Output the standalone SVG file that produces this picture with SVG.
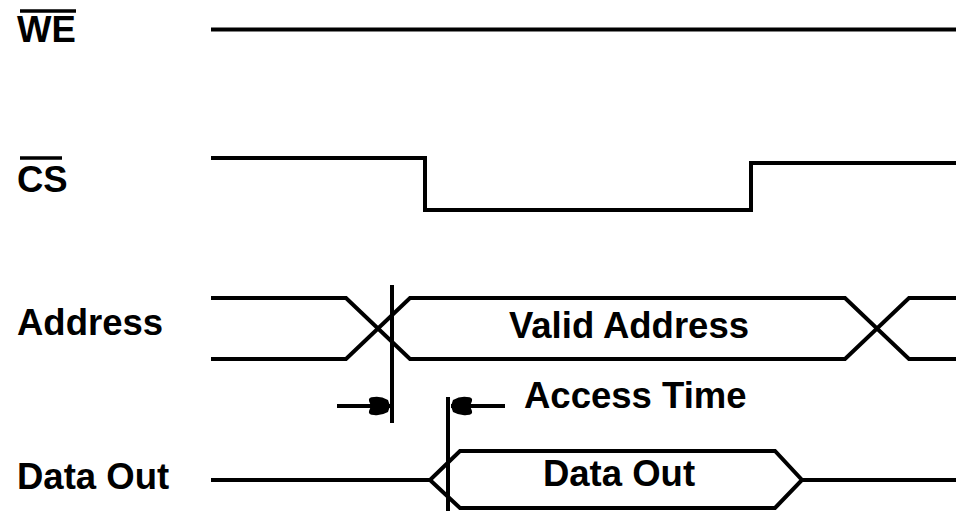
<svg xmlns="http://www.w3.org/2000/svg" width="959" height="511" viewBox="0 0 959 511">
<defs>
<style>
.sig{fill:none;stroke:#000;stroke-width:4;stroke-linejoin:miter}
.lbl{font-family:"Liberation Sans",Arial,sans-serif;font-weight:bold;font-size:36.5px;fill:#000}
.ov{stroke:#000;stroke-width:3.5}
</style>
<marker id="ah" markerUnits="userSpaceOnUse" markerWidth="26" markerHeight="22" viewBox="0 -11 26 22" refX="23" refY="0" orient="auto">
<path d="M23,0 L21,-6 Q14,-10 7,-9 Q1,-9 2,-5 L4,0 L2,5 Q1,9 7,9 Q14,10 21,6 Z" fill="#000"/>
</marker>
</defs>
<rect width="959" height="511" fill="#fff"/>
<g id="we">
<text class="lbl" x="17" y="42">WE</text>
<line class="ov" x1="20" y1="11" x2="76" y2="11"/>
<path class="sig" d="M211,29.5 H956"/>
</g>
<g id="cs">
<text class="lbl" x="17" y="192">CS</text>
<line class="ov" x1="20" y1="158" x2="62" y2="158"/>
<path class="sig" d="M211,158 H425 V210 H751 V163 H956"/>
</g>
<g id="address">
<text class="lbl" x="17" y="335">Address</text>
<path class="sig" d="M211,298 H346 L410,359 H845 L909,298 H956"/>
<path class="sig" d="M211,359 H346 L410,298 H845 L909,359 H956"/>
<text class="lbl" x="629" y="338" text-anchor="middle">Valid Address</text>
</g>
<g id="dataout">
<text class="lbl" x="17" y="489">Data Out</text>
<path class="sig" d="M211,480 H430 L460,451 H775 L802,480 L775,508 H460 L430,480"/>
<path class="sig" d="M802,480 H956"/>
<text class="lbl" x="619" y="486" text-anchor="middle">Data Out</text>
</g>
<g id="access-time">
<text class="lbl" x="524" y="408">Access Time</text>
</g>
<g id="connectors">
<line class="sig" x1="392" y1="285" x2="392" y2="423"/>
<line class="sig" x1="448" y1="397" x2="448" y2="511"/>
<line class="sig" x1="337" y1="406" x2="390" y2="406" marker-end="url(#ah)"/>
<line class="sig" x1="505" y1="406" x2="451" y2="406" marker-end="url(#ah)"/>
</g>
</svg>
